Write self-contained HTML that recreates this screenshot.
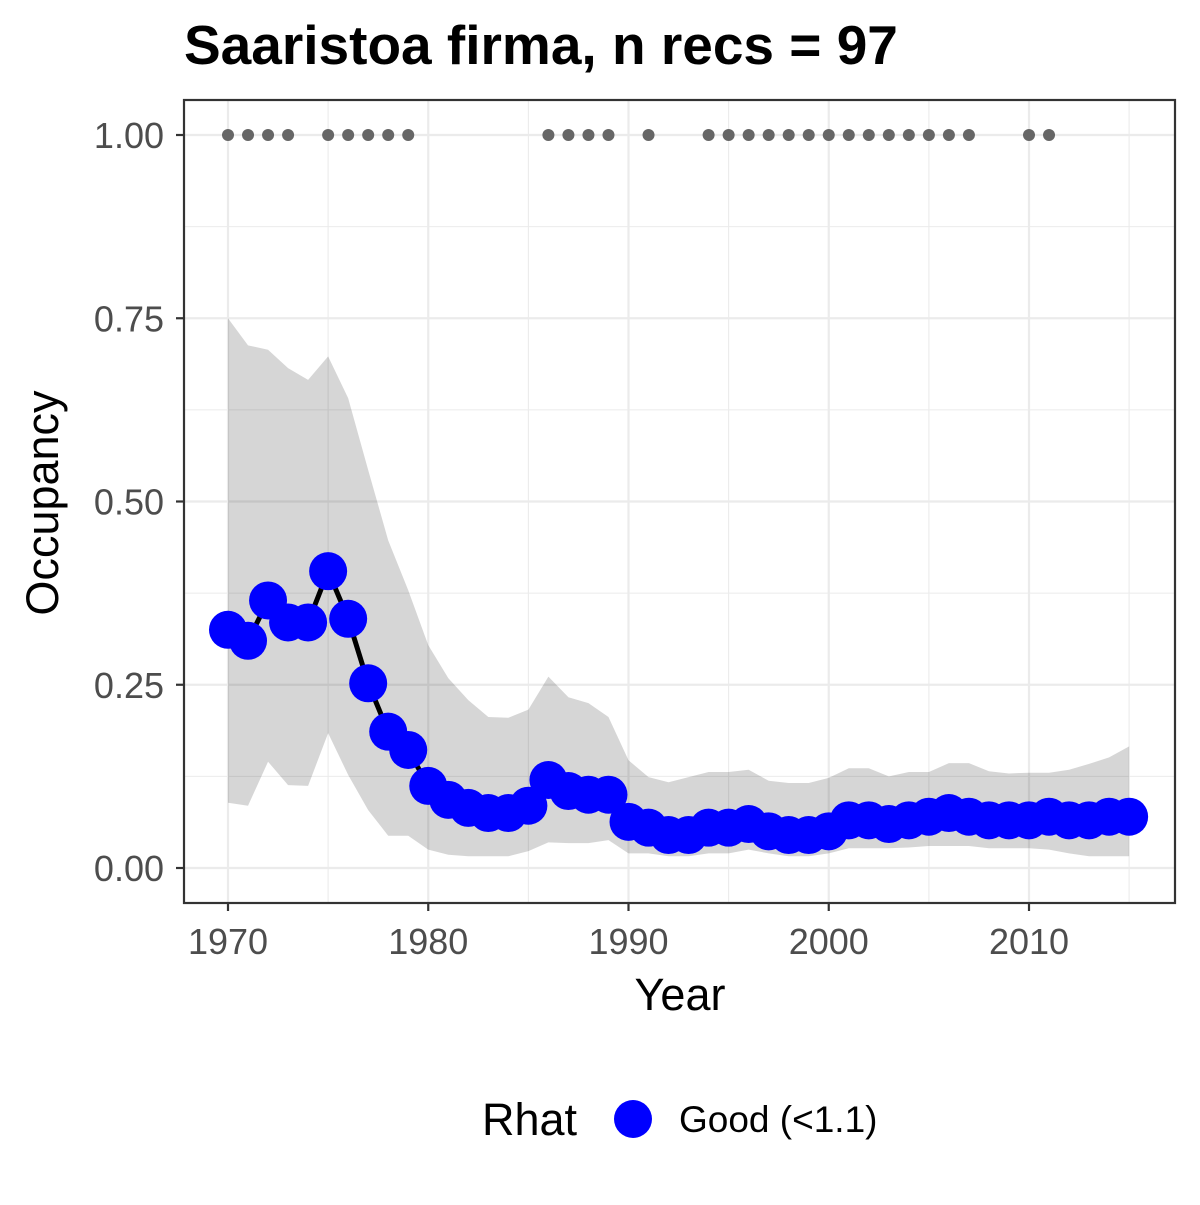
<!DOCTYPE html>
<html><head><meta charset="utf-8"><style>
body{margin:0;background:#fff;}
text{font-family:"Liberation Sans",Arial,sans-serif;}
</style></head><body>
<svg id="chart" width="1200" height="1200" xmlns="http://www.w3.org/2000/svg">
<rect width="1200" height="1200" fill="#fff"/>
<text x="184" y="64" font-size="55" font-weight="bold" fill="#000">Saaristoa firma, n recs = 97</text>
<g id="grid"></g>
<g id="band"></g>
<g id="series"></g>
<rect x="184" y="100" width="991" height="803" fill="none" stroke="#333" stroke-width="2.2"/>
<g id="axes"></g>
<text x="680" y="1010" font-size="45" text-anchor="middle" fill="#000">Year</text>
<text transform="translate(58,503) rotate(-90)" font-size="45" text-anchor="middle" fill="#000">Occupancy</text>
<g>
<text x="482" y="1135" font-size="45" fill="#000">Rhat</text>
<circle cx="633" cy="1119" r="19" fill="#0000ff"/>
<text x="679" y="1132" font-size="37" fill="#000">Good (&lt;1.1)</text>
</g>
</svg>
<script>
const years=[];for(let y=1970;y<=2015;y++)years.push(y);
const mean=[0.325,0.31,0.365,0.335,0.335,0.405,0.34,0.252,0.186,0.161,0.112,0.093,0.082,0.075,0.075,0.085,0.12,0.105,0.1,0.1,0.063,0.055,0.045,0.045,0.055,0.055,0.06,0.05,0.045,0.045,0.05,0.065,0.065,0.06,0.065,0.07,0.075,0.07,0.065,0.065,0.065,0.07,0.065,0.065,0.07,0.07];
const upper=[0.75,0.713,0.707,0.682,0.666,0.698,0.641,0.543,0.447,0.379,0.304,0.259,0.229,0.206,0.205,0.216,0.261,0.233,0.225,0.206,0.147,0.124,0.117,0.124,0.131,0.131,0.134,0.119,0.116,0.116,0.123,0.136,0.136,0.125,0.131,0.131,0.143,0.143,0.132,0.129,0.13,0.13,0.134,0.142,0.151,0.166];
const lower=[0.089,0.085,0.145,0.113,0.112,0.184,0.127,0.079,0.044,0.044,0.025,0.018,0.016,0.016,0.016,0.023,0.035,0.034,0.034,0.038,0.02,0.02,0.016,0.016,0.02,0.02,0.025,0.02,0.016,0.016,0.02,0.027,0.027,0.027,0.028,0.03,0.03,0.03,0.027,0.027,0.027,0.025,0.02,0.016,0.016,0.016];
const recordYears=[1970,1971,1972,1973,1975,1976,1977,1978,1979,1986,1987,1988,1989,1991,1994,1995,1996,1997,1998,1999,2000,2001,2002,2003,2004,2005,2006,2007,2010,2011];
const xTicks=[1970,1980,1990,2000,2010];
const yTicks=[0,0.25,0.5,0.75,1];
const yTickLabels=["0.00","0.25","0.50","0.75","1.00"];
const X=v=>228+(v-1970)*20.025;
const Y=v=>868-v*733;
const NS="http://www.w3.org/2000/svg";
function mk(p,tag,at){const e=document.createElementNS(NS,tag);for(const k in at)e.setAttribute(k,at[k]);p.appendChild(e);return e;}
const grid=document.getElementById('grid'),band=document.getElementById('band'),ser=document.getElementById('series'),axes=document.getElementById('axes');
for(let i=0;i<yTicks.length;i++){
 const l=mk(grid,'line',{x1:184,x2:1175,y1:Y(yTicks[i]),y2:Y(yTicks[i]),stroke:'#ebebeb','stroke-width':2.2});
 
 
 if(i<yTicks.length-1){const m=mk(grid,'line',{x1:184,x2:1175,y1:Y((yTicks[i]+yTicks[i+1])/2),y2:Y((yTicks[i]+yTicks[i+1])/2),stroke:'#ebebeb','stroke-width':1.1});
 
 }
 const t=mk(axes,'line',{x1:176,x2:184,y1:Y(yTicks[i]),y2:Y(yTicks[i]),stroke:'#333','stroke-width':2.2});
 
 
 const tx=mk(axes,'text',{x:164,y:Y(yTicks[i])+13,'font-size':36,'text-anchor':'end',fill:'#4d4d4d'});tx.textContent=yTickLabels[i];
 
 
}
for(let i=0;i<xTicks.length;i++){
 const l=mk(grid,'line',{x1:X(xTicks[i]),x2:X(xTicks[i]),y1:100,y2:903,stroke:'#ebebeb','stroke-width':2.2});
 
 
 const m=mk(grid,'line',{x1:X(xTicks[i]+5),x2:X(xTicks[i]+5),y1:100,y2:903,stroke:'#ebebeb','stroke-width':1.1});
 
 
 const t=mk(axes,'line',{x1:X(xTicks[i]),x2:X(xTicks[i]),y1:903,y2:911,stroke:'#333','stroke-width':2.2});
 
 
 const tx=mk(axes,'text',{x:X(xTicks[i]),y:954,'font-size':36,'text-anchor':'middle',fill:'#4d4d4d'});tx.textContent=xTicks[i];
 
 
}
let d='M'+years.map((y,i)=>X(y)+','+Y(upper[i])).join('L');
for(let i=years.length-1;i>=0;i--)d+='L'+X(years[i])+','+Y(lower[i]);
const bp=mk(band,'path',{d:d+'Z',fill:'#000','fill-opacity':0.16});


const ln=mk(ser,'polyline',{points:years.map((y,i)=>X(y)+','+Y(mean[i])).join(' '),fill:'none',stroke:'#000','stroke-width':5});


recordYears.forEach(y=>{const c=mk(ser,'circle',{cx:X(y),cy:Y(1),r:6,fill:'#666'});
 
 });
years.forEach((y,i)=>{const c=mk(ser,'circle',{cx:X(y),cy:Y(mean[i]),r:19,fill:'#0000ff'});
 
 });
</script>
</body></html>
